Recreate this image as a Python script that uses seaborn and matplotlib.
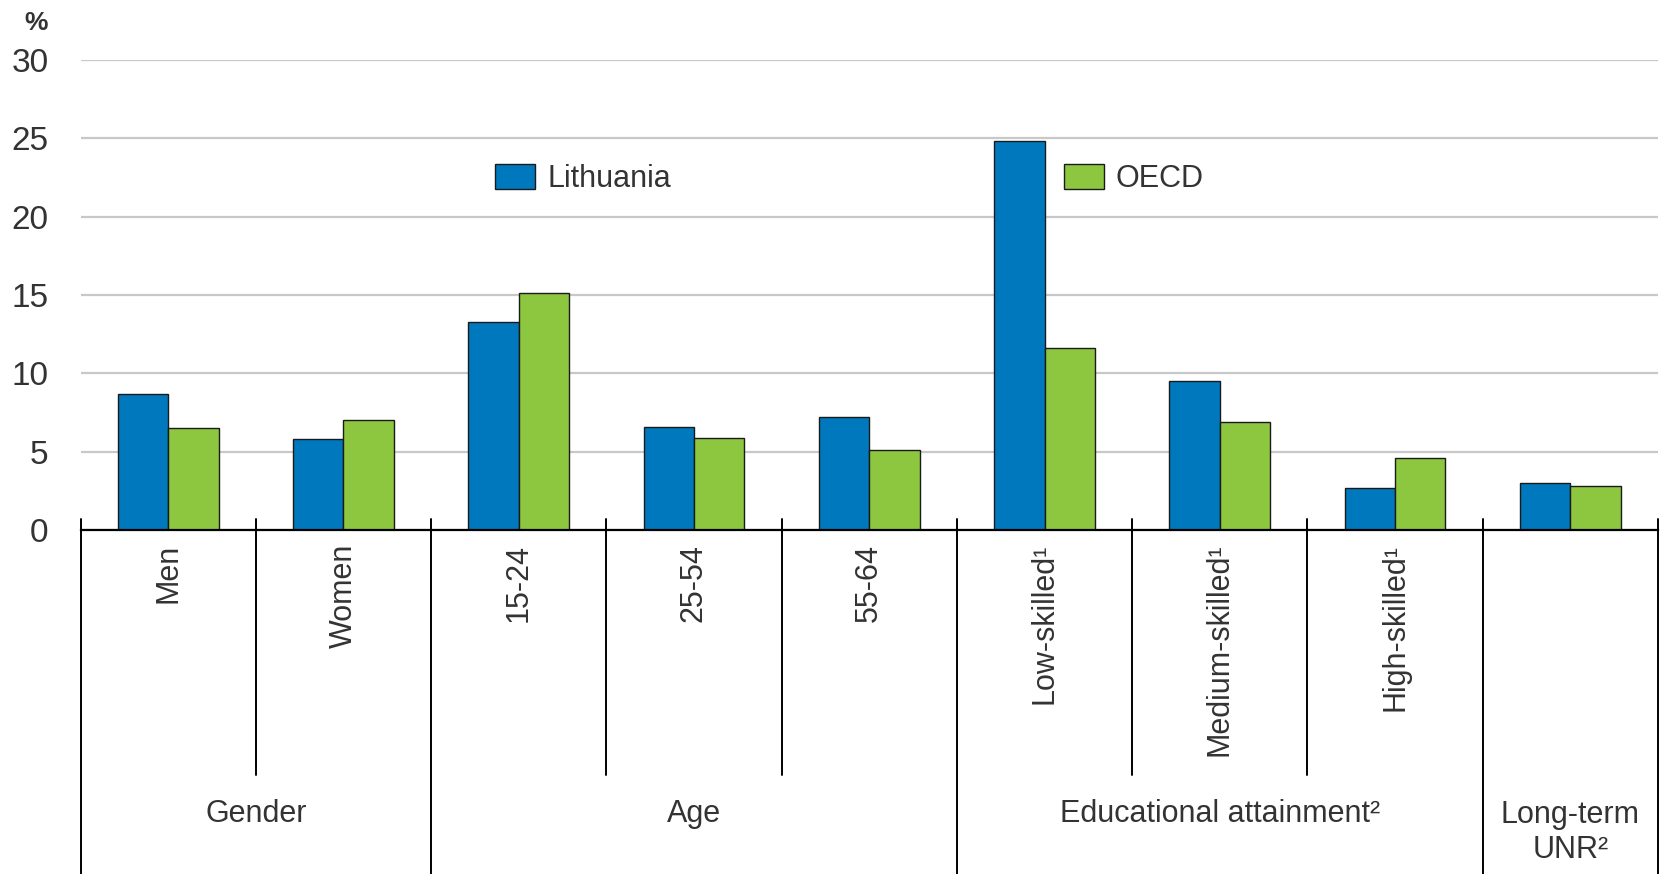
import pandas as pd
import matplotlib.pyplot as plt
import seaborn as sns

# Data (%)
categories = ["Men", "Women", "15-24", "25-54", "55-64",
              "Low-skilled¹", "Medium-skilled¹", "High-skilled¹", "Long-term UNR"]
lithuania = [8.7, 5.8, 13.3, 6.6, 7.2, 24.8, 9.5, 2.7, 3.0]
oecd = [6.5, 7.0, 15.1, 5.9, 5.1, 11.6, 6.9, 4.6, 2.8]
groups = ["Gender", "Age", "Educational attainment²", "Long-term\nUNR²"]
group_spans = [(0, 1), (2, 4), (5, 7), (8, 8)]

df = pd.DataFrame({
    "category": categories * 2,
    "value": lithuania + oecd,
    "country": ["Lithuania"] * len(categories) + ["OECD"] * len(categories),
})

sns.set_style("white")
plt.rcParams["font.family"] = ["Liberation Sans", "DejaVu Sans"]

fig = plt.figure(figsize=(16.61, 8.74), dpi=100)
ax = fig.add_axes([80.5 / 1661, 344 / 874, (1658 - 80.5) / 1661, 470 / 874])

sns.barplot(data=df, x="category", y="value", hue="country", order=categories,
            palette=["#0078BE", "#8DC63F"], saturation=1, width=0.575, gap=0,
            edgecolor="#1a1a1a", linewidth=1.0, ax=ax)

ax.set_xlim(-0.5, len(categories) - 0.5)
ax.set_ylim(0, 30)
ax.set_yticks(range(0, 31, 5))
ax.yaxis.grid(True, color="#c8c8c8", linewidth=1.6)
ax.set_axisbelow(True)
for s in ["top", "right", "left"]:
    ax.spines[s].set_visible(False)
ax.spines["bottom"].set_color("black")
ax.spines["bottom"].set_linewidth(1.6)
ax.set_xlabel("")
ax.set_ylabel("")
ax.tick_params(axis="y", length=0, pad=23, labelsize=24, labelcolor="#333333")
ax.tick_params(axis="x", length=0, pad=10)
ax.set_xticks(range(len(categories)))
ax.set_xticklabels(["" if c == "Long-term UNR" else c for c in categories],
                   rotation=90, va="top", ha="center", fontsize=22, color="#333333")

# separator lines below the axis
trans = ax.get_xaxis_transform()
for b in [0.5, 2.5, 3.5, 5.5, 6.5]:
    ax.plot([b, b], [0.023, -0.521], color="black", lw=1.4, transform=trans, clip_on=False)
for b in [-0.5, 1.5, 4.5, 7.5, 8.5]:
    ax.plot([b, b], [0.023, -0.74], color="black", lw=1.4, transform=trans, clip_on=False)

# group labels
for g, (a, b) in zip(groups, group_spans):
    y = -0.644 if "\n" in g else -0.604
    ax.text((a + b) / 2, y, g, transform=trans, ha="center", va="center",
            fontsize=22, color="#333333", linespacing=1.2)

fig.text(48 / 1661, 1 - 23 / 874, "%", ha="right", va="center",
         fontsize=19, fontweight="bold", color="#333333")

handles, labels = ax.get_legend_handles_labels()
ax.legend(handles, labels, loc="center left",
          bbox_to_anchor=(495 / 1661, 1 - 179 / 874), bbox_transform=fig.transFigure,
          ncol=2, frameon=False, fontsize=22, borderpad=0, borderaxespad=0,
          handlelength=1.31, handleheight=0.88, handletextpad=0.4,
          columnspacing=12.85, labelcolor="#333333")

fig.savefig("out.png", dpi=100)
